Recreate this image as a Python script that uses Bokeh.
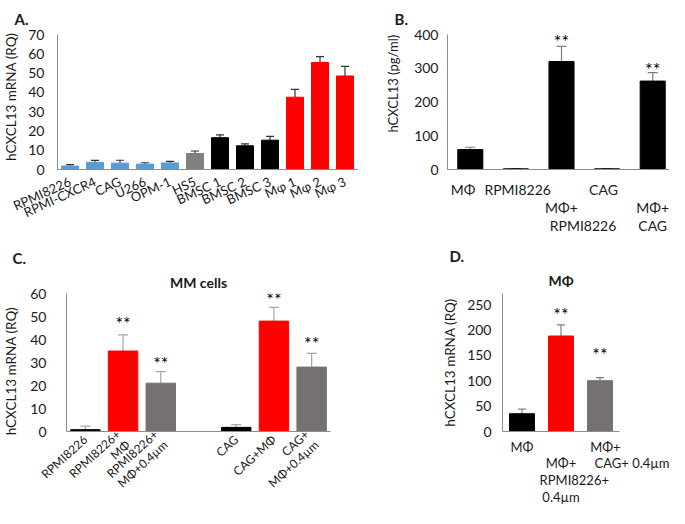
from bokeh.plotting import figure
from bokeh.models import Range1d, FixedTicker, Label, Whisker, TeeHead, ColumnDataSource, Title
from bokeh.layouts import row, column
from bokeh.embed import file_html
from bokeh.resources import INLINE

FONT = "Lato"
TXT = "#1a1a1a"
AXC = "#8c8c8c"
BLUE = "#5b9bd5"
GRAY_A = "#808080"
GRAY_C = "#767171"
RED = "#ff0000"
BLACK = "#000000"
NB = "\u00a0"

# ---------------- data ----------------
A_labels = ["RPMI8226", "RPMI-CXCR4", "CAG", "U266", "OPM-1", "HS5",
            "BMSC 1", "BMSC 2", "BMSC 3", "Mφ 1", "Mφ 2", "Mφ 3"]
A_values = [1.8, 3.7, 3.3, 2.8, 3.4, 8.3, 16.5, 12.3, 15.2, 37.5, 55.5, 48.5]
A_errors = [0.7, 1.0, 1.5, 0.7, 0.8, 1.3, 1.5, 1.0, 2.0, 4.0, 3.0, 5.0]
A_colors = [BLUE] * 5 + [GRAY_A] + [BLACK] * 3 + [RED] * 3
A_yticks = [0, 10, 20, 30, 40, 50, 60, 70]

B_labels = ["MΦ" + NB * 4, NB + "RPMI8226", NB + "\nMΦ+\n" + NB * 12 + "RPMI8226",
            "CAG" + NB * 2, NB + "\nMΦ+\nCAG"]
B_values = [59, 2, 320, 2, 262]
B_errors = [7, 0.6, 45, 1.0, 25]
B_colors = [BLACK] * 5
B_stars = [2, 4]
B_yticks = [0, 100, 200, 300, 400]

C_labels = ["RPMI8226", "RPMI8226+\nMΦ", "RPMI8226+\nMΦ+0.4µm", "",
            "CAG", "CAG+MΦ", "CAG+\nMΦ+0.4µm"]
C_slots = [0, 1, 2, 4, 5, 6]
C_values = [0.8, 35, 21, 1.8, 48, 28]
C_errors = [1.5, 7, 5, 1.2, 6, 6]
C_colors = [BLACK, RED, GRAY_C, BLACK, RED, GRAY_C]
C_stars = [1, 2, 4, 5]
C_yticks = [0, 10, 20, 30, 40, 50, 60]

D_labels = ["MΦ",
            NB + "\nMΦ+\n" + NB * 8 + "RPMI8226+\n0.4µm",
            NB * 9 + "MΦ+\n" + NB * 25 + "CAG+ 0.4µm"]
D_values = [35, 188, 100]
D_errors = [9, 22, 6]
D_colors = [BLACK, RED, GRAY_C]
D_stars = [1, 2]
D_yticks = [0, 50, 100, 150, 200, 250]


def make_fig(w, h, xr, yr, ml, mr, mt, mb, yticks, ylabel, ylab_size,
             tick_standoff, ylab_standoff):
    p = figure(width=w, height=h, x_range=Range1d(*xr), y_range=Range1d(*yr),
               output_backend="svg", toolbar_location=None, title=None,
               min_border_left=ml, min_border_right=mr,
               min_border_top=mt, min_border_bottom=mb)
    p.outline_line_color = None
    p.grid.visible = False
    p.background_fill_color = "white"
    p.border_fill_color = "white"
    for ax in p.axis:
        ax.axis_line_color = AXC
        ax.major_tick_line_color = None
        ax.minor_tick_line_color = None
        ax.major_label_text_font = FONT
        ax.major_label_text_color = TXT
        ax.major_label_text_font_size = "14px"
    p.yaxis.ticker = FixedTicker(ticks=yticks)
    p.yaxis.major_label_standoff = tick_standoff
    p.yaxis.axis_label = ylabel
    p.yaxis.axis_label_text_font = FONT
    p.yaxis.axis_label_text_font_size = ylab_size
    p.yaxis.axis_label_text_font_style = "normal"
    p.yaxis.axis_label_text_color = TXT
    p.yaxis.axis_label_standoff = ylab_standoff
    return p


HAS_STANDOFF = "standoff" in Title.properties()


def add_title(p, text, align, offset, standoff, size, bold=True):
    kw = dict(text=text, align=align, offset=offset, text_font=FONT,
              text_font_size=size, text_color=TXT,
              text_font_style="bold" if bold else "normal")
    if HAS_STANDOFF:
        kw["standoff"] = standoff
    p.add_layout(Title(**kw), "above")


def stars(p, xs, ys):
    for x, y in zip(xs, ys):
        p.add_layout(Label(x=x, y=y, text="**", text_font=FONT, text_font_size="18px",
                           text_color=BLACK, text_align="center", text_baseline="middle"))


def bars(p, xs, vals, errs, colors, width, wcolor, head):
    src = ColumnDataSource(dict(x=xs, top=vals, lower=vals,
                                upper=[v + e for v, e in zip(vals, errs)],
                                color=colors))
    p.add_layout(Whisker(source=src, base="x", lower="lower", upper="upper",
                         line_color=wcolor, line_width=1.2, lower_head=None,
                         upper_head=TeeHead(size=head, line_color=wcolor, line_width=1.2)))
    p.vbar(x="x", top="top", width=width, color="color", source=src)
    return src


# ---------------- Panel A ----------------  frame px x 54..365, y 40..169
pA = make_fig(370, 242, (0, 12), (0, 70), 46, 13, 32, 73, A_yticks,
              NB * 3 + "hCXCL13 mRNA (RQ)", "13.5px", 7, 6)
xa = [i + 0.5 for i in range(len(A_labels))]
bars(pA, xa, A_values, A_errors, A_colors, 0.68, "#333333", 8)
pA.xaxis.ticker = FixedTicker(ticks=xa)
pA.xaxis.major_label_overrides = {x: l for x, l in zip(xa, A_labels)}
pA.xaxis.major_label_orientation = 0.43
pA.xaxis.major_label_text_font_size = "13px"
pA.xaxis.major_label_standoff = 5
add_title(pA, "A.", "left", -43, 14, "15px")

# ---------------- Panel B ----------------  frame px x 455..677, y 40..169
B_sy = 129 / 400.0
pB = make_fig(299, 242, (0, 222 / 45.6), (0, 400), 77, 0, 32, 73, B_yticks,
              NB * 11 + "hCXCL13 (pg/ml)", "13px", 3, 10)
xb = [i + 0.5 for i in range(len(B_labels))]
bars(pB, xb, B_values, B_errors, B_colors, 0.55, "#7f7f7f", 10)
pB.xaxis.ticker = FixedTicker(ticks=xb)
pB.xaxis.major_label_overrides = {x: l for x, l in zip(xb, B_labels)}
pB.xaxis.major_label_standoff = 5
pB.xaxis.major_label_text_line_height = 1.08
add_title(pB, "B.", "left", -53, 14, "15px")
stars(pB, [xb[i] for i in B_stars], [(169 - 46) / B_sy, (169 - 73) / B_sy])

# ---------------- Panel C ----------------  frame px x 61..330, y 301..439
C_sy = 138 / 60.0
pC = make_fig(392, 266, (0, 7), (0, 60), 53, 62, 51, 77, C_yticks,
              "hCXCL13 mRNA (RQ)" + NB * 5, "13.5px", 14, 8)
xc = [s + 0.5 for s in C_slots]
bars(pC, xc, C_values, C_errors, C_colors, 0.78, "#a6a6a6", 10)
xct = [i + 0.5 for i in range(len(C_labels))]
pC.xaxis.ticker = FixedTicker(ticks=xct)
pC.xaxis.major_label_overrides = {x: l for x, l in zip(xct, C_labels)}
pC.xaxis.major_label_orientation = 0.74
pC.xaxis.major_label_text_font_size = "12px"
pC.xaxis.major_label_text_line_height = 0.95
pC.xaxis.major_label_standoff = 0
add_title(pC, "MM cells", "center", -12, 6, "14px")
add_title(pC, "C.", "left", -54, 4, "15px")
stars(pC, [xc[i] for i in C_stars],
      [(439 - py) / C_sy for py in [330, 370, 306, 350]])

# ---------------- Panel D ----------------  frame px x 510..627, y 301..439
D_sy = 127 / 250.0
pD = make_fig(277, 266, (0, 3), (0, 138 / D_sy), 110, 50, 51, 77, D_yticks,
              "hCXCL13 mRNA (RQ)", "13.5px", 5, 6)
xd = [i + 0.5 for i in range(len(D_labels))]
bars(pD, xd, D_values, D_errors, D_colors, 0.64, "#7f7f7f", 8)
pD.xaxis.ticker = FixedTicker(ticks=xd)
pD.xaxis.major_label_overrides = {x: l for x, l in zip(xd, D_labels)}
pD.xaxis.major_label_text_font_size = "13px"
pD.xaxis.major_label_text_line_height = 1.05
pD.xaxis.major_label_standoff = 1
add_title(pD, "MΦ", "center", -5, 10, "14px")
add_title(pD, "D.", "left", -53, 0, "15px")
stars(pD, [xd[i] for i in D_stars], [(439 - py) / D_sy for py in [321, 361]])

layout = column(row(pA, pB), row(pC, pD))
open("out.html", "w").write(file_html(layout, INLINE))
